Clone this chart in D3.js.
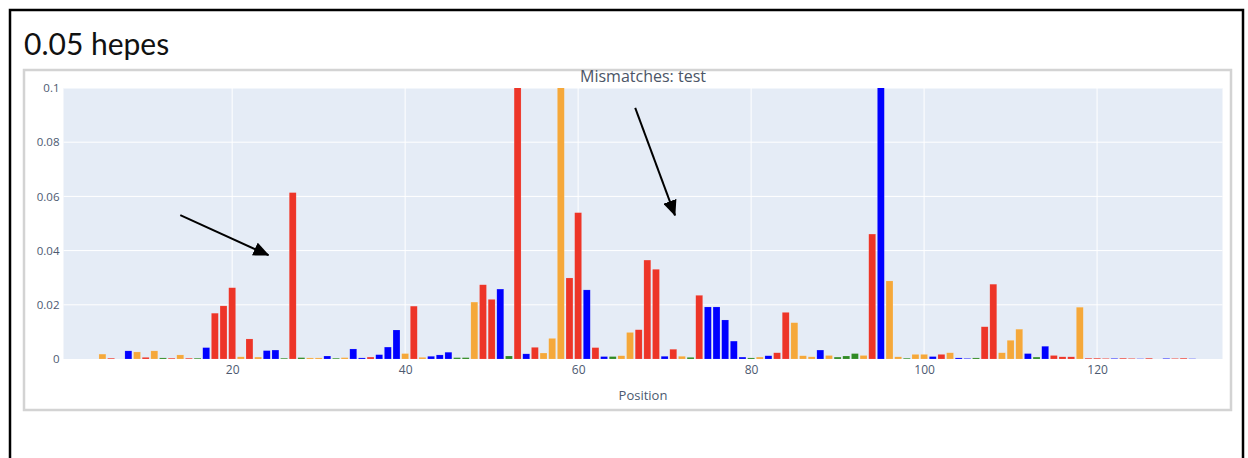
<!DOCTYPE html>
<html>
<head>
<meta charset="utf-8">
<script src="https://cdn.jsdelivr.net/npm/d3@7"></script>
<style>
  body { margin: 0; background: #fff; }
  svg { display: block; }
</style>
</head>
<body>
<div id="chart"></div>
<script>
// mismatch rate per position, coloured by base
const positions = [
  5, 6, 8, 9, 10, 11, 12, 13, 14, 15, 16, 17, 18, 19, 20, 21, 22, 23, 24, 25,
  26, 27, 28, 29, 30, 31, 32, 33, 34, 35, 36, 37, 38, 39, 40, 41, 42, 43, 44, 45,
  46, 47, 48, 49, 50, 51, 52, 53, 54, 55, 56, 57, 58, 59, 60, 61, 62, 63, 64, 65,
  66, 67, 68, 69, 70, 71, 72, 73, 74, 75, 76, 77, 78, 79, 80, 81, 82, 83, 84, 85,
  86, 87, 88, 89, 90, 91, 92, 93, 94, 95, 96, 97, 98, 99, 100, 101, 102, 103, 104, 105,
  106, 107, 108, 109, 110, 111, 112, 113, 114, 115, 116, 117, 118, 119, 120, 121, 122, 123, 124, 125,
  126, 128, 129, 130, 131
];
const bases = [
  "G", "T", "C", "G", "T", "G", "A", "T", "G", "T", "A", "C", "T", "T", "T", "G", "T", "G", "C", "C",
  "A", "T", "A", "G", "G", "C", "A", "G", "C", "C", "T", "C", "C", "C", "G", "T", "G", "C", "C", "C",
  "A", "A", "G", "T", "T", "C", "A", "T", "C", "T", "G", "G", "G", "T", "T", "C", "T", "C", "A", "G",
  "G", "T", "T", "T", "C", "T", "G", "A", "T", "C", "C", "C", "C", "C", "A", "G", "C", "T", "T", "G",
  "G", "G", "C", "G", "A", "A", "A", "G", "T", "C", "G", "G", "A", "G", "G", "C", "T", "G", "C", "C",
  "A", "T", "T", "G", "G", "G", "C", "A", "C", "T", "T", "T", "G", "T", "T", "T", "C", "T", "T", "C",
  "T", "C", "T", "T", "C"
];
const mismatches = [
  0.0018, 0.0003, 0.0030, 0.0026, 0.0006, 0.0030, 0.0004, 0.0003, 0.0015, 0.0003, 0.0003, 0.0042, 0.0169, 0.0196, 0.0263, 0.0008, 0.0074, 0.0007, 0.0031, 0.0033,
  0.0003, 0.0614, 0.0005, 0.0004, 0.0004, 0.0011, 0.0003, 0.0005, 0.0037, 0.0004, 0.0007, 0.0016, 0.0044, 0.0107, 0.0020, 0.0195, 0.0006, 0.0010, 0.0015, 0.0025,
  0.0005, 0.0005, 0.0210, 0.0274, 0.0220, 0.0258, 0.0011, 0.1200, 0.0019, 0.0043, 0.0022, 0.0076, 0.1200, 0.0299, 0.0540, 0.0255, 0.0042, 0.0009, 0.0009, 0.0012,
  0.0098, 0.0108, 0.0365, 0.0331, 0.0010, 0.0036, 0.0010, 0.0006, 0.0235, 0.0192, 0.0192, 0.0144, 0.0066, 0.0007, 0.0004, 0.0007, 0.0012, 0.0023, 0.0172, 0.0134,
  0.0012, 0.0008, 0.0033, 0.0013, 0.0007, 0.0011, 0.0020, 0.0013, 0.0461, 0.1500, 0.0288, 0.0008, 0.0003, 0.0017, 0.0017, 0.0009, 0.0017, 0.0023, 0.0004, 0.0002,
  0.0004, 0.0119, 0.0276, 0.0023, 0.0069, 0.0110, 0.0020, 0.0007, 0.0047, 0.0013, 0.0008, 0.0008, 0.0191, 0.0003, 0.0003, 0.0002, 0.0002, 0.0003, 0.0002, 0.0001,
  0.0003, 0.0002, 0.0002, 0.0003, 0.0001
];
const baseNames = ["A", "C", "G", "T"];
const baseColors = ["#2f8a24", "#0000ff", "#f5a83a", "#ed3528"];
const xTicks = [20, 40, 60, 80, 100, 120];
const yTicks = [0, 0.02, 0.04, 0.06, 0.08, 0.1];
// annotation arrows in data coordinates: [x1, y1, x2, y2]
const arrows = [
  [14.0, 0.0531, 24.2, 0.0383],
  [66.6, 0.0927, 71.2, 0.0530]
];

const data = positions.map((p, i) => ({ pos: p, base: bases[i], value: mismatches[i] }));

const W = 1248, H = 458;
const plot = { left: 63.5, right: 1222.5, top: 88, bottom: 359 };
const tickColor = "#4c5970";

const svg = d3.select("#chart").append("svg")
  .attr("width", W)
  .attr("height", H);

// outer black frame and inner grey panel
svg.append("rect")
  .attr("x", 10).attr("y", 10)
  .attr("width", 1233).attr("height", 470)
  .attr("fill", "#fff")
  .attr("stroke", "#000")
  .attr("stroke-width", 2.5);

svg.append("rect")
  .attr("x", 24).attr("y", 70)
  .attr("width", 1207).attr("height", 340)
  .attr("fill", "#fff")
  .attr("stroke", "#d3d3d3")
  .attr("stroke-width", 2.5);

svg.append("text")
  .attr("x", 24).attr("y", 55)
  .attr("font-family", "Lato, 'Open Sans', sans-serif")
  .attr("font-size", 30)
  .attr("fill", "#111")
  .text("0.05 hepes");

const x = d3.scaleLinear().domain([0.5, 134.5]).range([plot.left, plot.right]);
const y = d3.scaleLinear().domain([0, 0.1]).range([plot.bottom, plot.top]);
const color = d3.scaleOrdinal().domain(baseNames).range(baseColors);
const step = x(2) - x(1);
const barW = step * 0.8;

svg.append("rect")
  .attr("x", plot.left).attr("y", plot.top)
  .attr("width", plot.right - plot.left)
  .attr("height", plot.bottom - plot.top)
  .attr("fill", "#e5ecf6");

svg.append("clipPath").attr("id", "clip")
  .append("rect")
  .attr("x", plot.left).attr("y", plot.top)
  .attr("width", plot.right - plot.left)
  .attr("height", plot.bottom - plot.top);

// grid
svg.append("g")
  .selectAll("line")
  .data(xTicks)
  .join("line")
  .attr("x1", d => x(d)).attr("x2", d => x(d))
  .attr("y1", plot.top).attr("y2", plot.bottom)
  .attr("stroke", "#fff").attr("stroke-width", 1);

svg.append("g")
  .selectAll("line")
  .data(yTicks.filter(d => d > 0))
  .join("line")
  .attr("x1", plot.left).attr("x2", plot.right)
  .attr("y1", d => y(d)).attr("y2", d => y(d))
  .attr("stroke", "#fff").attr("stroke-width", 1);

// bars
svg.append("g")
  .attr("clip-path", "url(#clip)")
  .selectAll("rect")
  .data(data)
  .join("rect")
  .attr("x", d => x(d.pos) - barW / 2)
  .attr("width", barW)
  .attr("y", d => y(d.value))
  .attr("height", d => y(0) - y(d.value))
  .attr("fill", d => color(d.base))
  .attr("stroke", "#ffffff")
  .attr("stroke-opacity", 0.25)
  .attr("stroke-width", 0.5);

// axes
const xAxis = svg.append("g")
  .attr("transform", `translate(0,${plot.bottom})`)
  .call(d3.axisBottom(x).tickValues(xTicks).tickSize(0).tickPadding(6));
xAxis.select(".domain").remove();
xAxis.selectAll("text")
  .attr("font-family", "'Open Sans', sans-serif")
  .attr("font-size", 12)
  .attr("fill", tickColor);

const yAxis = svg.append("g")
  .attr("transform", `translate(${plot.left},0)`)
  .call(d3.axisLeft(y).tickValues(yTicks).tickSize(0).tickPadding(4)
    .tickFormat(d => d === 0 ? "0" : String(+d.toFixed(2))));
yAxis.select(".domain").remove();
yAxis.selectAll("text")
  .attr("font-family", "'Open Sans', sans-serif")
  .attr("font-size", 11.5)
  .attr("fill", tickColor);

svg.append("text")
  .attr("x", (plot.left + plot.right) / 2).attr("y", 82)
  .attr("text-anchor", "middle")
  .attr("font-family", "'Open Sans', sans-serif")
  .attr("font-size", 16)
  .attr("fill", "#4b5566")
  .text("Mismatches: test");

svg.append("text")
  .attr("x", (plot.left + plot.right) / 2).attr("y", 400)
  .attr("text-anchor", "middle")
  .attr("font-family", "'Open Sans', sans-serif")
  .attr("font-size", 13)
  .attr("fill", tickColor)
  .text("Position");

// arrows
svg.append("defs").append("marker")
  .attr("id", "head")
  .attr("markerUnits", "userSpaceOnUse")
  .attr("viewBox", "0 0 16 14")
  .attr("refX", 15).attr("refY", 7)
  .attr("markerWidth", 16).attr("markerHeight", 14)
  .attr("orient", "auto")
  .append("path")
  .attr("d", "M0,0 L16,7 L0,14 Z")
  .attr("fill", "#000");

svg.append("g")
  .selectAll("line")
  .data(arrows)
  .join("line")
  .attr("x1", d => x(d[0])).attr("y1", d => y(d[1]))
  .attr("x2", d => x(d[2])).attr("y2", d => y(d[3]))
  .attr("stroke", "#000")
  .attr("stroke-width", 2)
  .attr("marker-end", "url(#head)");
</script>
</body>
</html>
